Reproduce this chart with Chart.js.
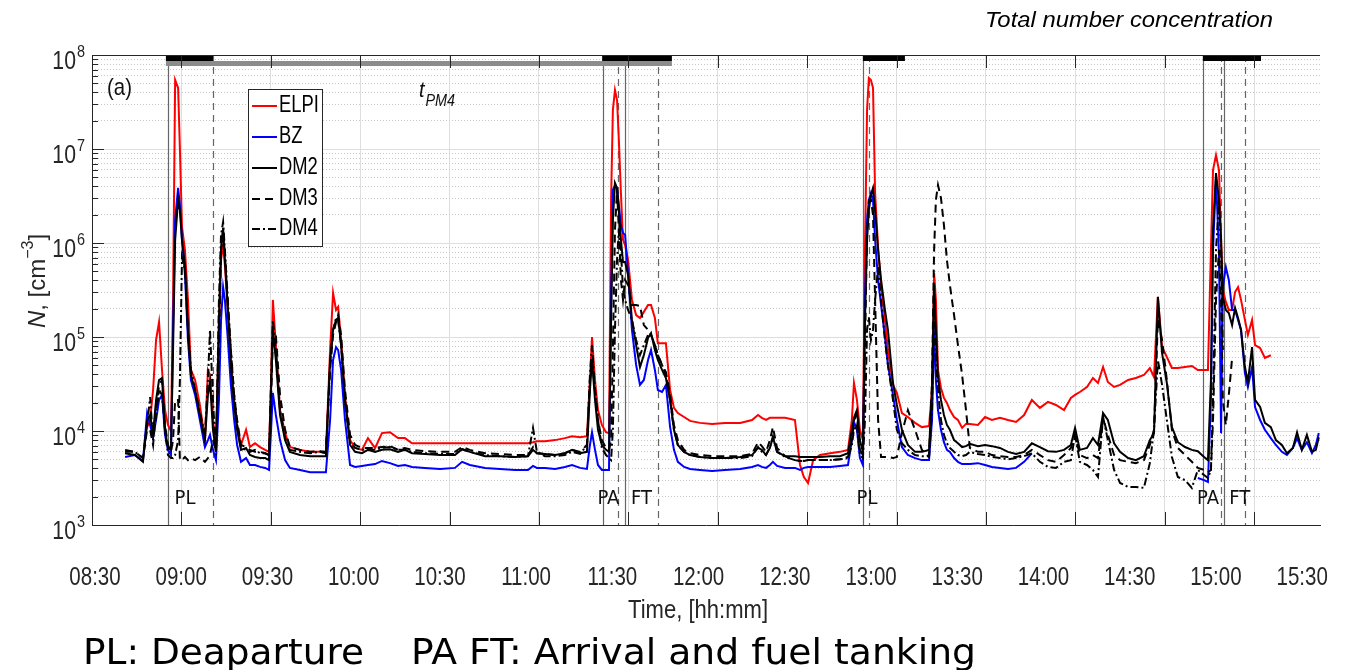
<!DOCTYPE html>
<html>
<head>
<meta charset="utf-8">
<script src="https://cdn.jsdelivr.net/npm/chart.js@4.4.1/dist/chart.umd.min.js"></script>
<style>
  html, body { margin: 0; padding: 0; background: #fff; }
  #wrap { position: relative; width: 1353px; height: 670px; }
</style>
</head>
<body>
<div id="wrap"><canvas id="chart" width="1353" height="670"></canvas></div>
<script>
// time in minutes after midnight
const times = [
  521.1, 524.4, 527.1, 528.5, 529.5, 530.5, 531.5, 532.5, 533.5, 534.5, 535.5, 536.5,
  537.2, 537.9, 538.9, 539.5, 540.2, 541.2, 542.2, 543.2, 544.6, 546.2, 547.9, 548.9,
  549.6, 550.6, 551.6, 552.6, 553.3, 554.0, 554.6, 555.6, 556.6, 557.7, 558.7, 560.0,
  561.7, 563.0, 564.7, 566.4, 568.1, 569.4, 570.1, 570.7, 571.7, 573.1, 574.8, 576.4,
  579.8, 583.2, 586.5, 588.5, 589.9, 590.9, 591.9, 592.6, 593.6, 594.9, 596.6, 598.3,
  600.6, 602.6, 605.0, 607.3, 610.0, 612.7, 615.0, 617.4, 621.7, 626.8, 631.8, 634.2,
  636.8, 641.9, 646.9, 652.0, 656.3, 658.0, 659.3, 662.0, 665.4, 668.7, 671.1, 673.8,
  676.1, 677.1, 677.8, 678.8, 679.8, 681.1, 682.5, 683.5, 684.2, 684.8, 685.5, 686.2,
  686.8, 687.5, 688.2, 688.9, 689.9, 691.2, 692.6, 693.9, 695.2, 696.6, 697.6, 698.9,
  699.9, 701.3, 702.6, 704.0, 705.3, 706.6, 708.7, 710.7, 714.0, 718.1, 722.4, 727.5,
  731.5, 733.5, 734.8, 736.2, 737.5, 738.5, 739.9, 742.6, 745.9, 747.6, 748.9, 750.3,
  752.0, 754.3, 757.7, 761.0, 763.7, 765.0, 765.7, 766.7, 767.7, 768.7, 769.4, 770.1,
  770.7, 771.4, 772.1, 772.8, 773.8, 774.8, 776.1, 777.1, 778.8, 780.1, 781.8, 783.8,
  786.2, 788.5, 790.9, 791.9, 792.6, 793.2, 793.9, 794.9, 795.9, 796.9, 797.9, 799.3,
  800.6, 802.0, 803.3, 804.6, 807.3, 809.7, 812.0, 814.7, 817.4, 820.1, 822.8, 825.4,
  828.1, 830.8, 833.5, 836.2, 838.5, 839.9, 841.5, 843.9, 845.9, 847.6, 849.3, 850.9,
  853.0, 855.0, 857.7, 860.3, 863.0, 865.0, 866.4, 867.7, 869.1, 870.7, 872.4, 874.4,
  876.8, 879.1, 881.1, 883.2, 884.5, 885.5, 886.2, 887.2, 888.2, 888.9, 889.5, 890.5,
  891.5, 892.6, 893.6, 894.6, 895.6, 896.9, 897.9, 899.3, 900.3, 902.0, 903.6, 905.6,
  907.3, 909.3, 911.0, 913.0, 914.4, 916.0, 917.7, 919.4, 920.7, 921.7
];

const elpi = [
  null, null, null, 1.1e4, 1.31e4, 2.73e4, 9.3e4, 1.44e5, 4.46e4, 1.67e4, 1.16e4, 1.0e4,
  2.48e5, 5.42e7, 4.46e7, 1.0e7, 1.48e6, 8.4e5, 2.48e5, 4.46e4, 3.49e4, 1.89e4, 8.0e3, 4.46e4,
  3.94e4, 1.31e4, 7.1e3, 1.19e5, 6.6e5, 9.5e5, 5.8e5, 1.94e5, 5.7e4, 2.14e4, 1.16e4, 7.1e3,
  1.03e4, 6.75e3, 7.4e3, 6.75e3, 6.3e3, 6.0e3, 3.49e4, 2.48e5, 8.2e4, 1.67e4, 9.5e3, 6.75e3,
  6.3e3, 6.0e3, 6.0e3, 5.8e3, 7.27e4, 2.94e5, 1.94e5, 2.09e5, 9.3e4, 2.3e4, 8.0e3, 6.6e3,
  6.3e3, 8.4e3, 6.6e3, 9.5e3, 9.7e3, 8.4e3, 8.4e3, 7.4e3, 7.4e3, 7.4e3, 7.4e3, 7.4e3,
  7.4e3, 7.4e3, 7.4e3, 7.4e3, 7.4e3, 7.6e3, 7.8e3, 7.8e3, 8.0e3, 8.4e3, 8.8e3, 8.6e3,
  8.8e3, 3.49e4, 1.0e5, 3.49e4, 1.67e4, 1.16e4, 9.7e3, 9.5e3, 2.87e6, 2.6e7, 4.24e7, 3.32e7,
  1.25e7, 3.4e6, 1.08e6, 9.5e5, 6.6e5, 2.48e5, 1.71e5, 1.59e5, 1.85e5, 2.19e5, 2.19e5, 1.59e5,
  8.6e4, 8.6e4, 8.6e4, 2.73e4, 1.76e4, 1.55e4, 1.41e4, 1.28e4, 1.22e4, 1.19e4, 1.22e4, 1.22e4,
  1.31e4, 1.48e4, 1.38e4, 1.31e4, 1.38e4, 1.38e4, 1.38e4, 1.38e4, 1.31e4, 4.35e3, 3.24e3, 2.8e3,
  4.9e3, 5.55e3, 5.8e3, 6.0e3, 6.3e3, 1.31e4, 3.24e4, 2.14e4, 1.03e4, 8.0e3, 8.4e5, 2.6e7,
  5.69e7, 5.42e7, 4.46e7, 3.4e6, 9.06e5, 3.57e5, 1.52e5, 7.27e4, 3.09e4, 2.54e4, 1.55e4, 1.41e4,
  1.22e4, 1.1e4, 1.13e4, 2.73e4, 4.79e5, 2.48e5, 4.46e4, 2.87e4, 2.25e4, 1.99e4, 1.67e4, 1.41e4,
  1.31e4, 1.08e4, 1.19e4, 1.19e4, 1.16e4, 1.41e4, 1.31e4, 1.38e4, 1.31e4, 1.25e4, 1.48e4, 2.14e4,
  1.76e4, 2.04e4, 1.89e4, 1.67e4, 2.25e4, 2.42e4, 2.6e4, 2.94e4, 3.66e4, 3.24e4, 4.79e4, 3.32e4,
  2.94e4, 3.09e4, 3.49e4, 3.66e4, 3.94e4, 4.68e4, 3.75e4, 2.67e5, 7.82e4, 6.12e4, 4.68e4, 4.68e4,
  4.79e4, 4.91e4, 4.46e4, 4.46e4, 4.46e4, 8.4e5, 5.98e6, 8.62e6, 5.98e6, 1.08e6, 3.16e5, 2.36e5,
  1.94e5, 1.94e5, 3.01e5, 3.4e5, 2.48e5, 1.52e5, 1.05e5, 1.52e5, 8.2e4, 7.63e4, 5.98e4, 6.4e4,
  null, null, null, null, null, null, null, null, null, null
];

const bz = [
  5.3e3, 5.55e3, 4.8e3, 1.55e4, 1.16e4, 8.6e3, 1.31e4, 2.14e4, 2.42e4, 9.1e3, 6.3e3, 5.55e3,
  1.19e5, 1.76e6, 3.85e6, 2.54e6, 1.08e6, 4.57e5, 9.3e4, 3.49e4, 2.42e4, 1.31e4, 6.75e3, 8.0e3,
  9.1e3, 6.3e3, 4.9e3, 2.14e4, 1.52e5, 3.4e5, 2.48e5, 9.3e4, 3.09e4, 1.31e4, 7.1e3, 4.7e3,
  5.15e3, 4.35e3, 4.35e3, 4.15e3, 4.05e3, 3.85e3, 1.03e4, 2.54e4, 1.48e4, 8.0e3, 4.9e3, 4.05e3,
  3.85e3, 3.65e3, 3.65e3, 3.65e3, 1.31e4, 5.7e4, 7.82e4, 7.27e4, 4.46e4, 1.31e4, 4.35e3, 4.15e3,
  4.25e3, 4.35e3, 4.45e3, 4.8e3, 4.55e3, 4.25e3, 4.35e3, 4.15e3, 4.05e3, 3.95e3, 4.05e3, 4.7e3,
  4.35e3, 4.05e3, 3.95e3, 3.85e3, 3.85e3, 4.25e3, 4.05e3, 4.05e3, 3.95e3, 4.15e3, 4.35e3, 4.05e3,
  3.95e3, 7.1e3, 9.7e3, 6.3e3, 4.35e3, 3.85e3, 3.85e3, 3.85e3, 2.48e5, 3.66e6, 4.14e6, 3.66e6,
  2.54e6, 1.55e6, 1.28e6, 1.22e6, 4.79e5, 1.19e5, 5.04e4, 3.09e4, 3.49e4, 5.7e4, 7.27e4, 4.46e4,
  2.73e4, 2.6e4, 3.09e4, 1.1e4, 6.3e3, 4.7e3, 4.15e3, 3.95e3, 3.85e3, 3.75e3, 3.85e3, 3.95e3,
  4.15e3, 4.35e3, 4.15e3, 4.05e3, 4.35e3, 4.7e3, 4.25e3, 4.05e3, 4.05e3, 3.85e3, 4.05e3, 4.15e3,
  4.15e3, 4.15e3, 4.15e3, 4.25e3, 4.35e3, 8.0e3, 1.25e4, 1.03e4, 5.15e3, 4.35e3, 2.48e5, 1.76e6,
  2.87e6, 3.4e6, 2.87e6, 1.08e6, 4.04e5, 2.19e5, 1.0e5, 5.04e4, 2.42e4, 1.31e4, 6.75e3, 5.55e3,
  5.15e3, 4.9e3, 4.9e3, 1.31e4, 1.19e5, 3.49e4, 1.67e4, 1.03e4, 7.6e3, 6.3e3, 6.0e3, 5.15e3,
  4.7e3, 4.45e3, 4.45e3, 4.45e3, 4.55e3, 4.35e3, 4.15e3, 4.05e3, 3.95e3, 4.05e3, 4.7e3, 5.8e3,
  null, null, null, null, null, null, null, null, null, null, null, null,
  null, null, null, null, null, null, null, null, null, null, null, null,
  null, null, 3.16e3, 3.0e3, 2.87e3, 2.14e4, 8.4e5, 5.04e6, 7.82e5, 9.5e3, 3.4e5, 5.55e5,
  4.04e5, 1.94e5, 1.94e5, 1.52e5, 1.19e5, 4.14e4, 2.94e4, 4.79e4, 1.8e4, 1.31e4, 1.03e4, 8.4e3,
  7.1e3, 6.0e3, 5.55e3, 6.6e3, 8.4e3, 6.3e3, 7.6e3, 5.8e3, 7.1e3, 9.5e3
];

const dm2 = [
  5.8e3, 5.55e3, 4.7e3, 1.31e4, 1.48e4, 9.5e3, 2.14e4, 3.49e4, 3.66e4, 1.03e4, 6.6e3, 6.3e3,
  7.27e4, 1.08e6, 2.87e6, 2.24e6, 1.08e6, 5.83e5, 1.19e5, 3.94e4, 2.73e4, 1.48e4, 8.0e3, 2.42e4,
  3.32e4, 1.03e4, 6.0e3, 1.52e5, 8.4e5, 1.44e6, 6.6e5, 1.94e5, 5.04e4, 1.89e4, 1.03e4, 6.3e3,
  6.6e3, 5.55e3, 5.3e3, 5.15e3, 5.15e3, 4.9e3, 2.73e4, 1.19e5, 5.7e4, 1.48e4, 8.0e3, 6.0e3,
  5.55e3, 5.4e3, 5.4e3, 5.4e3, 5.7e4, 1.19e5, 1.52e5, 1.59e5, 8.2e4, 2.14e4, 7.1e3, 6.0e3,
  5.8e3, 6.3e3, 6.0e3, 6.3e3, 6.4e3, 6.0e3, 6.3e3, 5.8e3, 5.7e3, 5.55e3, 5.55e3, 6.4e3,
  6.0e3, 5.4e3, 5.4e3, 5.3e3, 5.4e3, 6.3e3, 5.8e3, 5.7e3, 5.55e3, 5.8e3, 6.3e3, 5.8e3,
  6.0e3, 2.73e4, 5.7e4, 2.14e4, 1.03e4, 7.1e3, 6.3e3, 6.0e3, 1.52e5, 1.76e6, 4.35e6, 3.85e6,
  2.24e6, 1.08e6, 6.27e5, 6.27e5, 4.57e5, 1.52e5, 8.2e4, 4.79e4, 6.43e4, 9.74e4, 1.1e5, 7.27e4,
  5.7e4, 4.46e4, 3.66e4, 2.14e4, 1.03e4, 7.1e3, 6.0e3, 5.55e3, 5.3e3, 5.15e3, 5.15e3, 5.3e3,
  5.55e3, 6.6e3, 6.3e3, 5.55e3, 6.6e3, 8.6e3, 6.0e3, 5.4e3, 5.4e3, 5.3e3, 5.3e3, 5.3e3,
  5.3e3, 5.3e3, 5.4e3, 5.4e3, 5.8e3, 1.03e4, 1.38e4, 1.67e4, 8.0e3, 6.0e3, 1.52e5, 1.08e6,
  2.24e6, 3.24e6, 3.85e6, 2.24e6, 8.4e5, 4.04e5, 1.94e5, 1.19e5, 3.24e4, 1.89e4, 1.03e4, 7.1e3,
  6.0e3, 6.0e3, 6.3e3, 2.73e4, 3.75e5, 1.19e5, 3.75e4, 2.14e4, 1.48e4, 1.16e4, 1.03e4, 8.0e3,
  7.4e3, 6.75e3, 6.9e3, 7.3e3, 6.9e3, 7.1e3, 6.9e3, 6.6e3, 6.0e3, 5.7e3, 6.0e3, 7.4e3,
  6.75e3, 6.1e3, 6.0e3, 6.3e3, 7.1e3, 1.08e4, 6.3e3, 6.6e3, 8.4e3, 7.1e3, 1.55e4, 1.31e4,
  7.4e3, 6.0e3, 5.15e3, 4.9e3, 5.4e3, 8.0e3, 9.5e3, 2.67e5, 6.75e4, 3.24e4, 1.1e4, 7.6e3,
  6.75e3, 6.3e3, 6.1e3, 5.3e3, 4.9e3, 3.49e4, 1.38e6, 5.55e6, 2.87e6, 1.08e6, 2.67e5, 1.94e5,
  1.8e5, 1.34e5, 2.04e5, 1.59e5, 1.19e5, 4.79e4, 3.32e4, 7.82e4, 2.14e4, 1.8e4, 1.22e4, 1.1e4,
  8.0e3, 7.1e3, 5.8e3, 6.6e3, 9.7e3, 6.3e3, 9.1e3, 6.0e3, 6.3e3, 8.6e3
];

const dm3 = [
  6.0e3, 6.0e3, 5.15e3, 1.03e4, 1.03e4, 7.1e3, 1.67e4, 3.09e4, 3.49e4, 1.16e4, 7.1e3, 6.0e3,
  8.0e3, 2.14e4, 2.14e4, 4.9e3, 4.9e3, 5.3e3, 4.9e3, 5.15e3, 4.9e3, 5.3e3, 4.7e3, 5.15e3,
  5.55e3, 8.0e3, 6.3e3, 7.27e4, 8.4e5, 1.38e6, 7.45e5, 2.19e5, 7.27e4, 2.42e4, 1.31e4, 7.1e3,
  6.75e3, 6.3e3, 6.0e3, 6.0e3, 5.8e3, 5.55e3, 2.14e4, 9.3e4, 1.05e5, 2.42e4, 1.03e4, 6.75e3,
  6.3e3, 6.0e3, 6.1e3, 6.0e3, 4.46e4, 1.05e5, 1.44e5, 1.71e5, 1.05e5, 2.73e4, 9.1e3, 7.1e3,
  6.6e3, 6.6e3, 6.6e3, 6.75e3, 6.9e3, 6.3e3, 6.6e3, 6.3e3, 6.1e3, 6.0e3, 6.0e3, 6.75e3,
  6.3e3, 5.8e3, 5.7e3, 5.55e3, 5.55e3, 6.75e3, 5.8e3, 5.7e3, 5.55e3, 5.8e3, 6.3e3, 6.0e3,
  7.1e3, 3.49e4, 5.7e4, 2.73e4, 1.31e4, 8.0e3, 6.6e3, 6.3e3, 8.0e3, 7.27e4, 1.38e6, 3.66e6,
  1.38e6, 4.04e5, 2.48e5, 4.04e5, 3.57e5, 2.19e5, 2.19e5, 2.14e5, 1.34e5, 1.19e5, 1.05e5, 8.2e4,
  6.43e4, 5.04e4, 4.24e4, 2.42e4, 1.16e4, 8.0e3, 6.3e3, 5.8e3, 5.55e3, 5.4e3, 5.4e3, 5.4e3,
  5.7e3, 7.6e3, 6.9e3, 6.0e3, 8.0e3, 1.1e4, 6.6e3, 5.4e3, 4.9e3, 4.8e3, 4.8e3, 4.9e3,
  4.9e3, 4.9e3, 4.9e3, 5.0e3, 5.3e3, 8.0e3, 1.31e4, 1.48e4, 6.3e3, 5.55e3, 7.27e4, 1.38e6,
  2.87e6, 2.87e6, 1.99e6, 2.48e5, 1.31e4, 5.3e3, 5.3e3, 5.3e3, 5.15e3, 5.3e3, 9.5e3, 1.67e4,
  1.03e4, 6.3e3, 5.3e3, 3.49e4, 8.4e5, 2.87e6, 4.14e6, 3.01e6, 1.55e6, 6.6e5, 3.57e5, 1.71e5,
  8.2e4, 3.94e4, 1.67e4, 6.6e3, 6.0e3, 6.0e3, 5.55e3, 5.4e3, 5.3e3, 5.3e3, 5.55e3, 6.3e3,
  5.55e3, 4.9e3, 4.7e3, 5.55e3, 6.6e3, 9.1e3, 5.55e3, 5.15e3, 5.55e3, 5.15e3, 1.38e4, 9.1e3,
  5.55e3, 4.9e3, 4.7e3, 4.55e3, 4.9e3, 7.1e3, 1.03e4, 1.52e5, 9.3e4, 3.49e4, 1.03e4, 6.6e3,
  5.55e3, 4.7e3, 4.05e3, 3.85e3, 3.65e3, 3.85e3, 1.31e4, 2.48e5, 8.4e5, 2.48e5, 2.14e4, 1.16e4,
  2.42e4, 5.98e4, null, null, null, null, null, null, null, null, null, null,
  null, null, null, null, null, null, null, null, null, null
];

const dm4 = [
  6.3e3, 6.0e3, 5.15e3, 1.16e4, 2.3e4, 8.0e3, 1.48e4, 2.73e4, 2.42e4, 1.03e4, 5.55e3, 5.15e3,
  5.15e3, 5.55e3, 8.0e3, 3.49e4, 7.1e5, 5.2e5, 1.19e5, 4.46e4, 2.73e4, 1.59e4, 9.1e3, 3.49e4,
  1.19e5, 2.14e4, 5.55e3, 2.48e5, 1.22e6, 1.67e6, 8.4e5, 2.48e5, 7.27e4, 2.42e4, 1.16e4, 6.6e3,
  6.3e3, 6.0e3, 6.3e3, 5.8e3, 5.8e3, 5.55e3, 3.49e4, 1.52e5, 7.27e4, 1.67e4, 8.4e3, 6.3e3,
  6.0e3, 5.8e3, 6.0e3, 5.8e3, 5.04e4, 1.19e5, 1.59e5, 1.52e5, 8.2e4, 2.14e4, 7.4e3, 6.6e3,
  6.3e3, 6.3e3, 6.3e3, 6.6e3, 6.75e3, 6.3e3, 6.3e3, 6.0e3, 5.8e3, 5.7e3, 5.7e3, 6.4e3,
  6.0e3, 5.55e3, 5.4e3, 5.3e3, 5.4e3, 1.08e4, 6.0e3, 5.4e3, 5.4e3, 5.55e3, 6.0e3, 5.7e3,
  7.1e3, 3.94e4, 8.2e4, 2.73e4, 1.31e4, 6.6e3, 5.55e3, 5.15e3, 4.9e3, 1.03e4, 1.19e5, 6.6e5,
  1.38e6, 8.4e5, 3.16e5, 2.48e5, 1.94e5, 1.52e5, 9.3e4, 6.43e4, 8.2e4, 1.05e5, 1.05e5, 8.2e4,
  6.43e4, 5.04e4, 3.94e4, 2.14e4, 1.03e4, 7.1e3, 6.0e3, 5.55e3, 5.3e3, 5.15e3, 5.15e3, 5.15e3,
  5.4e3, 6.75e3, 6.0e3, 5.55e3, 6.75e3, 8.6e3, 6.0e3, 5.3e3, 4.9e3, 4.8e3, 4.8e3, 4.9e3,
  4.9e3, 4.9e3, 4.9e3, 5.0e3, 5.15e3, 7.1e3, 1.03e4, 1.16e4, 5.55e3, 5.15e3, 1.31e4, 1.19e5,
  1.63e5, 9.3e4, 1.19e5, 2.48e5, 5.55e5, 2.48e5, 9.3e4, 5.04e4, 2.14e4, 1.03e4, 7.4e3, 6.3e3,
  5.55e3, 5.4e3, 5.4e3, 1.67e4, 1.94e5, 5.7e4, 2.73e4, 1.31e4, 9.1e3, 7.4e3, 6.6e3, 6.0e3,
  5.55e3, 5.4e3, 5.55e3, 6.0e3, 5.7e3, 5.55e3, 5.3e3, 5.15e3, 5.0e3, 5.15e3, 5.4e3, 5.8e3,
  4.7e3, 4.15e3, 4.05e3, 4.7e3, 4.9e3, 9.1e3, 4.7e3, 4.35e3, 3.85e3, 3.24e3, 1.41e4, 8.0e3,
  3.85e3, 2.8e3, 2.54e3, 2.54e3, 2.48e3, 4.55e3, 1.03e4, 5.7e4, 3.09e4, 1.31e4, 5.3e3, 3.24e3,
  3.0e3, 2.48e3, 3.85e3, 3.4e3, 3.16e3, 3.85e3, 2.14e4, 8.4e5, 2.87e6, 8.4e5, 7.27e4, null,
  null, null, null, null, null, null, null, null, null, null, null, null,
  null, null, null, null, null, null, null, null, null, null
];

const tickLabels = ['08:30', '09:00', '09:30', '10:00', '10:30', '11:00', '11:30', '12:00',
  '12:30', '13:00', '13:30', '14:00', '14:30', '15:00', '15:30'];

// event markers (minutes)
const flightBars = [[534.8, 550.6], [681.2, 704.6], [768.7, 782.8], [882.8, 902.3]];
const pm4Bar = [534.8, 704.6];
const solidEvents = [535.5, 681.5, 688.9, 768.7, 882.8, 889.8];
const dashedEvents = [550.6, 686.5, 699.9, 770.7, 888.9, 896.9];
const eventLabels = [['PL', 541.2], ['PA', 683.3], ['FT', 694.4], ['PL', 770.1], ['PA', 884.5], ['FT', 895.2]];

const SANS = '"Liberation Sans", Arial, Helvetica, sans-serif';
const DEJAVU = '"DejaVu Sans", sans-serif';
const AXIS_INK = '#262626';

const toMin = s => { const [h, m] = s.split(':').map(Number); return h * 60 + m; };
const gridTimes = [];
for (let t = 510; t <= 900; t += 30) gridTimes.push(t);
const decades = [1e3, 1e4, 1e5, 1e6, 1e7, 1e8];
const minorValues = [];
decades.slice(0, -1).forEach(d => { for (let m = 2; m <= 9; m++) minorValues.push(m * d); });

const series = [
  { label: 'ELPI', data: elpi, color: '#ff0000', dash: [] },
  { label: 'BZ', data: bz, color: '#0000ff', dash: [] },
  { label: 'DM2', data: dm2, color: '#000000', dash: [] },
  { label: 'DM3', data: dm3, color: '#000000', dash: [8, 5] },
  { label: 'DM4', data: dm4, color: '#000000', dash: [8, 3, 2, 3] }
];

// text drawn with a horizontal squeeze, like the original figure
function squeezed(ctx, str, x, y, font, align, sx, color, baseline) {
  ctx.save();
  ctx.font = font;
  ctx.fillStyle = color || AXIS_INK;
  ctx.textBaseline = baseline || 'middle';
  ctx.textAlign = 'left';
  const w = ctx.measureText(str).width * sx;
  const left = align === 'center' ? x - w / 2 : align === 'right' ? x - w : x;
  ctx.translate(left, y);
  ctx.scale(sx, 1);
  ctx.fillText(str, 0, 0);
  ctx.restore();
  return w;
}

function fitted(ctx, str, x, y, font, align, width, color, baseline) {
  ctx.save();
  ctx.font = font;
  const sx = width / ctx.measureText(str).width;
  ctx.restore();
  return squeezed(ctx, str, x, y, font, align, sx, color, baseline);
}

function vline(ctx, x, y0, y1) {
  const px = Math.round(x) + 0.5;
  ctx.beginPath();
  ctx.moveTo(px, y0);
  ctx.lineTo(px, y1);
  ctx.stroke();
}

const decorations = {
  id: 'decorations',
  beforeDatasetsDraw(chart) {
    const { ctx, chartArea: a, scales: { x } } = chart;
    ctx.save();
    ctx.strokeStyle = '#666';
    ctx.lineWidth = 1.2;
    solidEvents.forEach(t => vline(ctx, x.getPixelForValue(t), a.top, a.bottom));
    ctx.setLineDash([7, 5]);
    dashedEvents.forEach(t => vline(ctx, x.getPixelForValue(t), a.top, a.bottom));
    ctx.restore();
  },
  afterDatasetsDraw(chart) {
    const { ctx, chartArea: a, scales: { x, y } } = chart;
    ctx.save();
    // exposure bars along the top
    ctx.fillStyle = '#8c8c8c';
    ctx.fillRect(x.getPixelForValue(pm4Bar[0]), a.top + 6, x.getPixelForValue(pm4Bar[1]) - x.getPixelForValue(pm4Bar[0]), 5);
    ctx.fillStyle = '#000';
    flightBars.forEach(([s, e]) => {
      ctx.fillRect(x.getPixelForValue(s), a.top, x.getPixelForValue(e) - x.getPixelForValue(s), 6);
    });
    // top frame line and inward ticks
    ctx.strokeStyle = AXIS_INK;
    ctx.lineWidth = 1;
    ctx.beginPath();
    ctx.moveTo(a.left, a.top + 0.5);
    ctx.lineTo(a.right, a.top + 0.5);
    ctx.stroke();
    gridTimes.forEach(t => {
      const px = Math.round(x.getPixelForValue(t)) + 0.5;
      ctx.beginPath();
      ctx.moveTo(px, a.bottom); ctx.lineTo(px, a.bottom - 13);
      ctx.moveTo(px, a.top); ctx.lineTo(px, a.top + 13);
      ctx.stroke();
    });
    decades.forEach(v => {
      const py = Math.round(y.getPixelForValue(v)) + 0.5;
      ctx.beginPath(); ctx.moveTo(a.left, py); ctx.lineTo(a.left + 12, py); ctx.stroke();
    });
    minorValues.forEach(v => {
      const py = Math.round(y.getPixelForValue(v)) + 0.5;
      ctx.beginPath(); ctx.moveTo(a.left, py); ctx.lineTo(a.left + 6, py); ctx.stroke();
    });
    ctx.restore();
  },
  afterDraw(chart) {
    const { ctx, scales: { x, y, xLab } } = chart;

    // y tick labels 10^n
    decades.forEach(v => {
      const py = y.getPixelForValue(v);
      squeezed(ctx, '10', 76, py + 7, '25px ' + SANS, 'right', 0.85);
      squeezed(ctx, String(Math.round(Math.log10(v))), 77, py - 3, '17px ' + SANS, 'left', 0.85);
    });

    // x tick labels
    tickLabels.forEach(lbl => {
      squeezed(ctx, lbl, xLab.getPixelForValue(toMin(lbl)), 578, '25px ' + SANS, 'center', 0.82);
    });
    fitted(ctx, 'Time, [hh:mm]', 698, 611, '26px ' + SANS, 'center', 140);

    // y title
    ctx.save();
    ctx.translate(38, 281);
    ctx.rotate(-Math.PI / 2);
    ctx.fillStyle = AXIS_INK;
    ctx.textBaseline = 'middle';
    const parts = [
      { t: 'N', f: 'italic 24px ' + SANS, dy: 0 },
      { t: ', [cm', f: '24px ' + SANS, dy: 0 },
      { t: '\u22123', f: '16px ' + SANS, dy: -9 },
      { t: ']', f: '24px ' + SANS, dy: 0 }
    ];
    let total = 0;
    parts.forEach(p => { ctx.font = p.f; p.w = ctx.measureText(p.t).width; total += p.w; });
    let cx = -total / 2;
    parts.forEach(p => { ctx.font = p.f; ctx.fillText(p.t, cx, p.dy); cx += p.w; });
    ctx.restore();

    // event labels
    eventLabels.forEach(([txt, t]) => {
      squeezed(ctx, txt, x.getPixelForValue(t), 499, '20px ' + DEJAVU, 'center', 0.9, '#111');
    });

    // panel tag and t_PM4
    squeezed(ctx, '(a)', 107, 88, '24px ' + SANS, 'left', 0.85, '#111');
    const tx = x.getPixelForValue((pm4Bar[0] + pm4Bar[1]) / 2);
    const tw = squeezed(ctx, 't', tx, 91, 'italic 22px ' + SANS, 'left', 0.9, '#111');
    squeezed(ctx, 'PM4', tx + tw + 1, 102, 'italic 16px ' + SANS, 'left', 0.9, '#111');

    // legend
    const box = { x: 248.5, y: 89.5, w: 74, h: 157 };
    ctx.save();
    ctx.fillStyle = '#fff';
    ctx.fillRect(box.x, box.y, box.w, box.h);
    ctx.strokeStyle = AXIS_INK;
    ctx.lineWidth = 1;
    ctx.strokeRect(box.x, box.y, box.w, box.h);
    const rows = [106, 137, 168, 199, 229];
    chart.data.datasets.forEach((ds, i) => {
      ctx.strokeStyle = ds.borderColor;
      ctx.lineWidth = 2;
      ctx.setLineDash(ds.borderDash || []);
      ctx.beginPath();
      ctx.moveTo(252, rows[i]);
      ctx.lineTo(277, rows[i]);
      ctx.stroke();
      ctx.setLineDash([]);
      squeezed(ctx, ds.label, 279, rows[i], '23px ' + SANS, 'left', 0.8, '#000');
    });
    ctx.restore();

    // headings outside the axes
    fitted(ctx, 'Total number concentration', 1273, 21, 'italic 22px ' + SANS, 'right', 288, '#000');
    fitted(ctx, 'PL: Deaparture', 83, 664, '35px ' + DEJAVU, 'left', 281, '#000', 'alphabetic');
    fitted(ctx, 'PA FT: Arrival and fuel tanking', 411, 664, '35px ' + DEJAVU, 'left', 565, '#000', 'alphabetic');
  }
};

new Chart(document.getElementById('chart'), {
  type: 'line',
  data: {
    datasets: series.map((s, i) => ({
      label: s.label,
      data: times.map((t, k) => ({ x: t, y: s.data[k] })),
      borderColor: s.color,
      borderWidth: 2,
      borderDash: s.dash,
      pointRadius: 0,
      fill: false,
      tension: 0,
      order: series.length - i,
      xAxisID: 'x',
      yAxisID: 'y'
    }))
  },
  options: {
    responsive: false,
    animation: false,
    events: [],
    layout: { padding: { top: 55, right: 33, bottom: 145, left: 0 } },
    plugins: { legend: { display: false }, tooltip: { enabled: false } },
    scales: {
      x: {
        type: 'linear', position: 'bottom', min: 510, max: 922.1,
        afterBuildTicks: s => { s.ticks = gridTimes.map(v => ({ value: v })); },
        afterFit: s => { s.height = 0; },
        ticks: { display: false, autoSkip: false },
        grid: { color: '#dedede', lineWidth: 1, drawTicks: false },
        border: { display: true, color: AXIS_INK, width: 1 }
      },
      xLab: { type: 'linear', position: 'bottom', display: false, min: 508.96, max: 936.2 },
      y: {
        type: 'logarithmic', position: 'left', min: 1e3, max: 1e8,
        afterBuildTicks: s => { s.ticks = decades.map(v => ({ value: v, major: true })); },
        afterFit: s => { s.width = 92; },
        ticks: { display: false },
        grid: { color: '#dedede', lineWidth: 1, drawTicks: false },
        border: { display: true, color: AXIS_INK, width: 1 }
      },
      yMinor: {
        type: 'logarithmic', position: 'left', min: 1e3, max: 1e8,
        afterBuildTicks: s => { s.ticks = minorValues.map(v => ({ value: v })); },
        afterFit: s => { s.width = 0; },
        ticks: { display: false },
        grid: { color: '#c8c8c8', lineWidth: 1, drawTicks: false },
        border: { display: false, dash: [1, 2] }
      }
    }
  },
  plugins: [decorations]
});
</script>
</body>
</html>
